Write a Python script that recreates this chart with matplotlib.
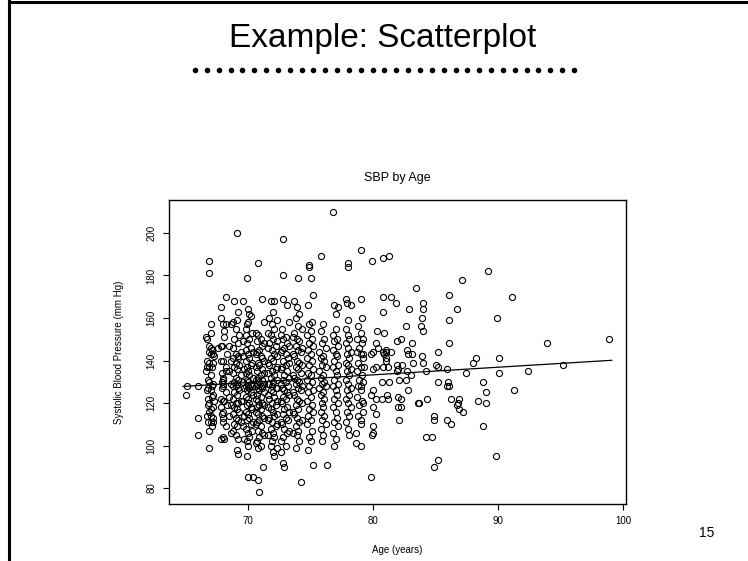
import matplotlib
matplotlib.use("Agg")
import matplotlib.pyplot as plt
from matplotlib.lines import Line2D
import numpy as np

plt.rcParams['font.family'] = ['Liberation Sans', 'DejaVu Sans']

# ---- data (age in years, SBP in mm Hg), read column by column ----
col_65 = [(65.0,124),(65.1,128),(66.0,128),(66.0,113),(66.0,105)]
col_67 = [(66.9,187),(66.9,181),(67.0,157),(66.7,150),(66.9,147),(67.0,146),(66.9,144),(67.0,143),(67.2,143),
          (66.7,140),(66.9,139),(67.2,139),(66.7,137),(66.9,137),(67.1,137),(66.6,135),(66.9,130),(66.7,126),
          (67.0,126),(67.2,124),(66.8,122),(66.9,120),(66.8,119),(67.2,118),(66.9,116),(66.7,114),(67.0,114),
          (66.8,111),(67.0,111),(67.2,111),(66.9,107),(66.9,99),(66.6,151),(67.0,153),(66.8,131),(67.1,128)]
col_67b = [(67.1,145),(67.3,142),(67.0,133),(67.2,129),(66.8,127),(67.1,123),(67.3,121),(67.0,117),(67.2,113),
           (67.1,109)]
col_68 = [(68.2,170),(67.8,165),(67.8,160),(68.0,157),(68.2,157),(68.1,154),(68.1,151),(67.8,147),(67.9,147),
          (67.6,146),(67.8,140),(68.0,140),(68.2,137),(67.9,134),(68.0,132),(68.0,131),(67.9,130),(68.0,129),
          (68.0,128),(67.9,127),(67.8,122),(68.0,121),(68.1,121),(67.8,118),(68.0,116),(67.9,115),(68.0,113),
          (68.0,111),(68.2,109),(68.0,104),(68.1,103),(67.8,103),(68.2,125),(68.3,143),(68.3,119),(68.2,135)]
col_69 = [(69.1,200),(68.9,168),(69.2,163),(69.1,159),(68.8,158),(69.0,155),(68.9,150),(69.2,148),(68.8,146),
          (69.0,143),(69.2,142),(68.8,141),(69.2,141),(69.0,139),(68.9,137),(69.1,136),(68.8,134),(69.0,132),
          (69.2,131),(68.9,130),(69.1,129),(68.8,128),(69.0,128),(69.2,127),(68.9,125),(69.1,124),(68.8,122),
          (69.0,120),(69.2,120),(68.9,118),(69.1,117),(68.8,115),(69.0,113),(69.2,112),(68.9,110),(69.1,109),
          (68.8,107),(69.0,105),(69.2,103),(69.1,98),(69.2,96)]
col_69b = [(68.6,157),(69.3,152),(68.5,147),(69.4,144),(68.6,140),(69.3,138),(68.5,135),(69.4,133),(68.6,129),
           (69.3,126),(68.5,123),(69.4,121),(68.6,119),(69.3,116),(68.5,114),(69.4,111),(68.6,106)]
col_70 = [(69.9,179),(69.6,168),(70.0,164),(70.1,162),(70.2,161),(70.0,158),(69.9,157),(69.8,155),(69.8,152),
          (70.1,150),(69.9,148),(70.2,146),(69.8,145),(70.0,143),(70.1,141),(69.8,140),(70.2,138),(69.9,137),
          (70.0,135),(69.8,134),(70.1,133),(69.9,131),(70.0,130),(70.2,129),(69.8,128),(70.0,128),(70.1,127),
          (69.9,126),(70.2,125),(69.8,123),(70.0,122),(70.1,120),(69.9,119),(70.2,118),(69.8,116),(70.0,115),
          (70.1,113),(69.9,112),(70.2,110),(69.8,108),(70.0,106),(70.1,104),(69.9,102),(70.0,100),(69.9,95),
          (70.0,85),(70.4,85)]
col_70b = [(70.3,153),(69.6,149),(70.4,144),(69.6,142),(70.3,139),(69.7,136),(70.4,132),(69.6,130),(70.3,128),
           (69.7,127),(70.4,124),(69.6,121),(70.3,117),(69.7,114),(70.4,111),(69.6,109),(70.3,107),(69.7,103)]
col_71 = [(70.8,186),(71.1,169),(70.8,152),(71.0,150),(70.7,149),(71.1,147),(70.9,145),(70.7,144),(71.0,142),
          (71.1,141),(70.8,139),(70.9,138),(71.1,136),(70.7,135),(71.0,133),(70.8,132),(71.1,131),(70.9,130),
          (70.7,129),(71.0,128),(70.8,127),(71.1,127),(70.9,126),(70.7,124),(71.0,123),(70.8,121),(71.1,120),
          (70.9,119),(70.7,118),(71.0,117),(70.8,115),(71.1,114),(70.9,112),(70.7,111),(71.0,109),(70.8,107),
          (71.1,106),(70.9,104),(70.7,102),(71.0,100),(70.8,99),(70.8,84),(70.9,78)]
col_71b = [(71.3,158),(70.6,153),(71.3,148),(70.6,143),(71.3,140),(70.6,137),(71.3,134),(70.6,131),(71.3,129),
           (70.6,128),(71.3,125),(70.6,122),(71.3,119),(70.6,116),(71.3,113),(70.6,110),(71.3,105),(70.6,101),
           (71.2,90)]
col_72 = [(71.8,168),(72.1,168),(72.0,163),(71.7,160),(71.9,157),(72.1,155),(71.8,152),(72.0,150),(71.7,148),
          (72.2,147),(71.9,145),(72.1,143),(71.8,141),(72.0,140),(71.7,138),(72.2,136),(71.9,135),(72.1,133),
          (71.8,132),(72.0,130),(71.7,129),(71.9,128),(72.2,127),(71.8,126),(72.0,125),(72.1,123),(71.7,122),
          (71.9,120),(72.2,119),(71.8,117),(72.0,116),(72.1,114),(71.7,113),(71.9,111),(72.2,109),(71.8,108),
          (72.0,106),(72.1,104),(71.9,102),(71.8,100),(72.0,97),(72.1,95)]
col_72b = [(72.3,159),(71.6,153),(72.3,149),(71.6,146),(72.3,142),(71.6,139),(72.3,137),(71.6,134),(72.3,131),
           (71.6,129),(72.3,127),(71.6,124),(72.3,121),(71.6,118),(72.3,115),(71.6,112),(72.3,110),(71.6,105),
           (72.3,99)]
col_73 = [(72.8,197),(72.8,180),(72.8,169),(73.1,166),(72.7,155),(73.0,151),(72.8,150),(73.1,148),(72.9,146),
          (72.7,145),(73.0,143),(73.2,141),(72.8,140),(73.0,138),(72.7,137),(73.1,135),(72.9,133),(72.8,131),
          (73.0,130),(73.2,128),(72.7,127),(72.9,126),(73.1,125),(72.8,123),(73.0,122),(72.7,120),(73.1,118),
          (72.9,117),(72.8,115),(73.0,113),(73.2,112),(72.7,110),(72.9,108),(73.1,106),(72.8,104),(73.0,100),
          (72.6,97),(72.8,92),(72.9,90)]
col_73b = [(73.3,158),(72.6,152),(73.3,147),(72.6,144),(73.3,139),(72.6,136),(73.3,132),(72.6,129),(73.3,124),
           (72.6,121),(73.3,116),(72.6,111),(73.3,107),(72.6,102)]
col_74 = [(74.0,179),(73.7,168),(73.9,165),(74.1,162),(73.8,160),(74.0,156),(73.7,153),(73.9,150),(74.1,149),
          (73.8,147),(74.0,145),(74.2,144),(73.7,142),(73.9,140),(74.1,139),(73.8,137),(74.0,136),(74.2,134),
          (73.7,132),(73.9,131),(74.1,130),(73.8,129),(74.0,127),(74.2,126),(73.7,124),(73.9,122),(74.1,121),
          (73.8,119),(74.0,117),(73.7,115),(73.9,113),(74.1,111),(73.8,109),(74.0,107),(73.9,105),(74.1,102),
          (73.8,99),(74.2,83)]
col_74b = [(74.3,155),(73.6,151),(74.3,146),(73.6,143),(74.3,138),(73.6,133),(74.3,128),(73.6,125),(74.3,120),
           (73.6,116),(74.3,112),(73.6,106)]
col_75 = [(74.9,185),(74.9,184),(75.0,179),(75.2,171),(74.8,166),(75.1,158),(74.9,157),(75.0,154),(74.7,152),
          (75.1,150),(74.9,148),(75.2,147),(74.8,145),(75.0,143),(74.7,141),(75.1,140),(74.9,138),(75.2,136),
          (74.8,134),(75.0,133),(74.7,131),(75.1,130),(74.9,128),(75.2,126),(74.8,125),(75.0,123),(74.7,121),
          (75.1,119),(74.9,117),(75.2,116),(74.8,114),(75.0,112),(74.7,110),(75.1,107),(74.9,104),(75.0,102),
          (74.8,98),(75.2,91)]
col_76 = [(75.8,189),(76.0,157),(75.8,154),(76.1,150),(75.9,148),(76.2,146),(75.7,144),(76.0,142),(75.8,141),
          (76.1,140),(75.9,138),(76.2,137),(75.7,135),(76.0,133),(75.8,132),(76.1,130),(75.9,129),(76.2,128),
          (75.7,127),(76.0,125),(75.8,124),(76.1,122),(75.9,120),(76.0,118),(75.8,116),(76.1,114),(75.9,112),
          (76.2,110),(75.8,108),(76.0,105),(75.9,102),(76.3,91)]
col_77 = [(76.8,210),(76.9,166),(77.2,165),(77.0,162),(77.0,155),(76.8,152),(77.1,150),(76.9,149),(77.2,147),
          (76.8,145),(77.0,143),(77.1,142),(76.9,140),(77.2,138),(76.8,137),(77.0,135),(77.1,133),(76.9,131),
          (77.2,129),(76.8,128),(77.0,126),(77.1,124),(76.9,122),(77.2,120),(76.8,118),(77.0,116),(77.1,113),
          (76.9,111),(77.2,109),(76.8,106),(77.0,103),(76.9,100)]
col_78 = [(78.0,186),(78.0,184),(77.8,169),(77.9,167),(78.2,166),(78.0,159),(77.8,155),(78.0,152),(78.1,150),
          (77.8,148),(78.0,146),(78.2,144),(77.9,143),(78.1,141),(77.8,139),(78.0,138),(78.2,136),(77.9,135),
          (78.1,133),(77.8,131),(78.0,129),(78.2,127),(77.9,126),(78.1,124),(77.8,122),(78.0,120),(78.2,118),
          (77.9,116),(78.1,114),(77.8,111),(78.0,108),(78.1,105)]
col_79 = [(79.0,192),(79.0,169),(79.1,160),(78.8,156),(79.0,153),(78.7,150),(79.1,148),(78.9,146),(78.7,144),
          (79.0,143),(79.2,141),(78.8,139),(79.0,137),(78.7,135),(79.1,133),(78.9,131),(79.2,130),(78.8,128),
          (79.0,126),(78.7,123),(79.1,121),(78.9,119),(79.2,116),(78.8,114),(79.0,110),(78.6,106),(78.6,101),
          (79.0,100)]
col_80 = [(79.9,187),(80.3,154),(80.2,148),(80.4,146),(80.0,144),(79.8,143),(80.0,136),(80.2,137),(80.0,126),
          (79.8,124),(80.2,122),(80.0,118),(80.2,115),(80.0,109),(79.9,105),(80.0,106),(79.8,85),(79.2,150),
          (79.2,143),(79.3,137),(79.0,128),(79.2,120),(79.0,112)]
col_81 = [(80.8,188),(81.3,189),(80.8,170),(81.4,170),(80.8,163),(80.9,153),(81.0,145),(80.8,144),(80.9,143),
          (81.0,144),(81.4,144),(81.0,141),(81.0,140),(80.8,137),(81.2,137),(80.7,130),(81.3,130),(80.7,122),
          (81.1,124),(81.2,122)]
col_82 = [(81.8,167),(81.9,149),(82.2,150),(81.9,138),(81.9,135),(82.0,136),(82.3,138),(82.1,131),(82.0,123),
          (82.2,122),(82.0,118),(82.2,118),(82.1,112)]
col_83 = [(83.4,174),(82.9,164),(82.6,156),(83.1,148),(82.7,145),(82.8,143),(83.1,143),(83.2,139),(82.7,135),
          (83.0,133),(82.6,131),(82.8,126),(83.7,120)]
col_far = [(84.0,167),(84.0,164),(83.9,160),(83.8,156),(84.0,154),(86.1,171),(86.7,164),(86.1,159),(86.1,148),
           (83.9,142),(84.0,139),(85.2,144),(85.0,138),(85.2,137),(85.9,136),(88.2,141),(88.0,139),(84.2,135),
           (87.4,134),(85.2,130),(86.0,130),(85.9,128),(86.1,128),(88.8,130),(89.0,125),(83.6,120),(84.3,122),
           (86.2,122),(86.8,120),(86.9,122),(86.7,119),(86.9,117),(87.2,116),(88.4,121),(89.0,120),(84.9,114),
           (84.9,112),(85.9,112),(86.2,110),(88.8,109),(84.2,104),(84.7,104),(85.2,93),(84.9,90),(87.1,178),
           (89.2,182),(91.1,170),(89.9,160),(93.9,148),(98.9,150),(90.1,141),(90.1,134),(92.4,135),(95.2,138),
           (91.3,126),(89.8,95)]

fit_age = [64.8, 99.1]
fit_sbp = [127.8, 140.1]

x_ticks = [70, 80, 90, 100]
y_ticks = [80, 100, 120, 140, 160, 180, 200]

columns = [col_65, col_67, col_67b, col_68, col_69, col_69b, col_70, col_70b, col_71, col_71b, col_72, col_72b,
           col_73, col_73b, col_74, col_74b, col_75, col_76, col_77, col_78, col_79, col_80, col_81, col_82,
           col_83, col_far]
age = np.array([p[0] for c in columns for p in c])
sbp = np.array([p[1] for c in columns for p in c])

W, H = 748, 561
fig = plt.figure(figsize=(W / 100, H / 100), dpi=100)
fig.patch.set_facecolor('white')

# slide border
fig.add_artist(Line2D([9 / W, 9 / W], [0, 1], color='black', lw=2.2, transform=fig.transFigure))
fig.add_artist(Line2D([9 / W, 1], [1 - 1.5 / H, 1 - 1.5 / H], color='black', lw=2.2, transform=fig.transFigure))

# slide title
fig.text(383 / W, 1 - 39 / H, 'Example: Scatterplot', ha='center', va='center', fontsize=24)
dot_x = np.linspace(195 / W, 574 / W, 33)
fig.add_artist(Line2D(dot_x, [1 - 70 / H] * len(dot_x), ls='none', marker='o', ms=3.0,
                      color='black', transform=fig.transFigure))

# page number
fig.text(707 / W, 1 - 533 / H, '15', ha='center', va='center', fontsize=10)

left, right, top, bottom = 169, 626, 200, 504
ax = fig.add_axes([left / W, 1 - bottom / H, (right - left) / W, (bottom - top) / H])
ax.plot(age, sbp, ls='none', marker='o', ms=4.4, mfc='none', mec='black', mew=0.8)
ax.plot(fit_age, fit_sbp, color='black', lw=0.9)

ax.set_xlim(63.68, 100.24)
ax.set_ylim(72.5, 215.5)
ax.set_xticks(x_ticks)
ax.set_yticks(y_ticks)
ax.tick_params(direction='out', length=4, width=0.8, labelsize=7, pad=5)
for lab in ax.get_yticklabels():
    lab.set_rotation(90)
    lab.set_va('center')
for s in ax.spines.values():
    s.set_linewidth(1.0)

ax.set_title('SBP by Age', fontsize=9, pad=14)
ax.set_xlabel('Age (years)', fontsize=7, labelpad=13)
ax.set_ylabel('Systolic Blood Pressure (mm Hg)', fontsize=7, labelpad=16)

fig.savefig('out.png', dpi=100, facecolor='white')
